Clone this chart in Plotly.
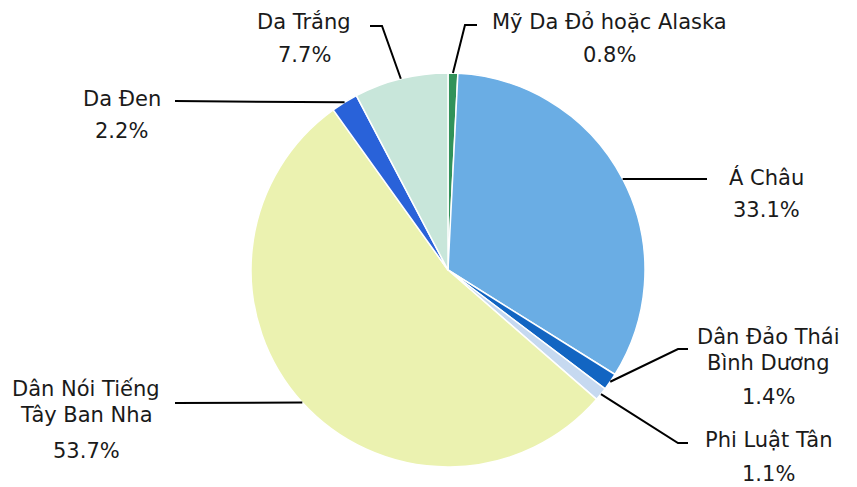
import math
import plotly.graph_objects as go

labels = ["Mỹ Da Đỏ hoặc Alaska", "Á Châu", "Dân Đảo Thái<br>Bình Dương", "Phi Luật Tân",
          "Dân Nói Tiếng<br>Tây Ban Nha", "Da Đen", "Da Trắng"]
values = [0.8, 33.1, 1.4, 1.1, 53.7, 2.2, 7.7]
colors = ["#31925a", "#6aade4", "#1265c2", "#c6d9f0", "#ebf2b0", "#2962d9", "#c8e6da"]

W, H = 857, 487
CX, CY, R = 448, 270, 197

# label layout: (elbow x, elbow y, end x, text center x, first name line y, pct y)
layout_pts = [
    (465, 25, 477, 609, 22, 55),
    (707, 179, 707, 766, 177, 210),
    (678, 349, 688, 768, 337, 397),
    (678, 443, 688, 768, 440, 474),
    (175, 403, 175, 86, 389, 451),
    (175, 101, 175, 122, 99, 131),
    (382, 26, 370, 304, 22, 55),
]
LINE_GAP = 26

fig = go.Figure(go.Pie(
    labels=labels, values=values, sort=False, direction="clockwise", rotation=0,
    marker=dict(colors=colors, line=dict(color="white", width=1.5)),
    textinfo="none", hoverinfo="label+percent", showlegend=False,
    domain=dict(x=[(CX - R) / W, (CX + R) / W], y=[(H - CY - R) / H, (H - CY + R) / H]),
))

def px(x):
    return x / W

def py(y):
    return 1 - y / H

total = sum(values)
cum = 0
shapes = []
annotations = []
font = dict(family="DejaVu Sans, Verdana, sans-serif", size=21, color="#1a1a1a")
for lab, v, pts in zip(labels, values, layout_pts):
    mid = (cum + v / 2) / total * 2 * math.pi
    cum += v
    sx = CX + R * math.sin(mid)
    sy = CY - R * math.cos(mid)
    ex, ey, endx, tx, ny, pyy = pts
    shapes.append(dict(type="path", xref="paper", yref="paper",
                       path=f"M {px(sx)} {py(sy)} L {px(ex)} {py(ey)} L {px(endx)} {py(ey)}",
                       line=dict(color="black", width=2)))
    for i, part in enumerate(lab.split("<br>")):
        annotations.append(dict(x=px(tx), y=py(ny + i * LINE_GAP), xref="paper", yref="paper",
                                text=part, showarrow=False, font=font,
                                xanchor="center", yanchor="middle"))
    annotations.append(dict(x=px(tx), y=py(pyy), xref="paper", yref="paper", text=f"{v:.1f}%",
                            showarrow=False, font=font, xanchor="center", yanchor="middle"))

fig.update_layout(width=W, height=H, margin=dict(l=0, r=0, t=0, b=0),
                  paper_bgcolor="white", plot_bgcolor="white",
                  shapes=shapes, annotations=annotations)
fig.write_html("out.html", config={"displayModeBar": False},
               post_script="document.body.style.margin='0';document.body.style.overflow='hidden';")
